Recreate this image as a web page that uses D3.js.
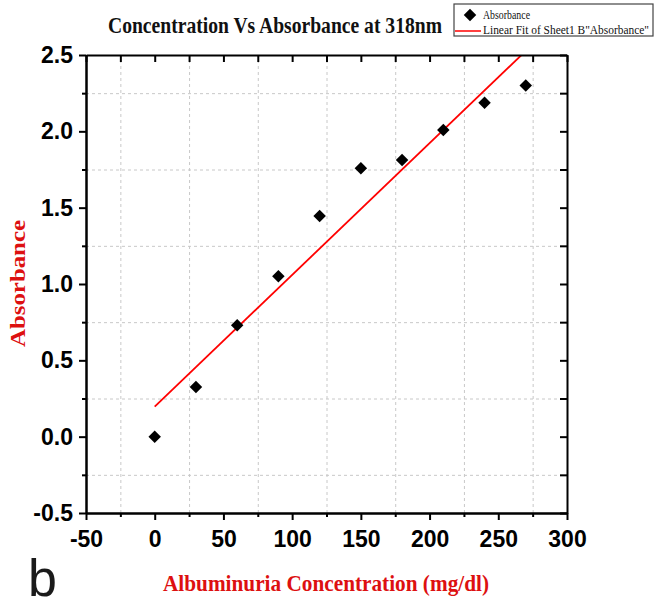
<!DOCTYPE html>
<html>
<head>
<meta charset="utf-8">
<style>
body { margin: 0; background: #fff; }
/* tick labels, bold sans like Origin's Arial */
.tick text { font-family: "Liberation Sans", Arial, sans-serif; font-weight: bold; font-size: 23px; fill: #000; }
.axis path, .axis line { stroke: #000; stroke-width: 2; }
.grid line { stroke: #c8c8c8; stroke-width: 1; stroke-dasharray: 3,3; }
.grid path { display: none; }
.serif { font-family: "Liberation Serif", "Times New Roman", serif; }
</style>
</head>
<body>
<svg width="656" height="600"></svg>
<script src="https://cdn.jsdelivr.net/npm/d3@7"></script>
<script>

// measured data (albuminuria mg/dl vs absorbance at 318nm)
var concentration = [0, 30, 60, 90, 120, 150, 180, 210, 240, 270];
var absorbance = [0.0, 0.325, 0.73, 1.05, 1.445, 1.758, 1.812, 2.008, 2.187, 2.30];

var xMajor = [-50, 0, 50, 100, 150, 200, 250, 300];
var xMinor = [-25, 25, 75, 125, 175, 225, 275];
var yMajor = [-0.5, 0.0, 0.5, 1.0, 1.5, 2.0, 2.5];
var yMinor = [-0.25, 0.25, 0.75, 1.25, 1.75, 2.25];

var titleText = "Concentration Vs Absorbance at 318nm";
var xTitle = "Albuminuria Concentration (mg/dl)";
var yTitle = "Absorbance";
var legendLabels = ["Absorbance", "Linear Fit of Sheet1 B\"Absorbance\""];

var svg = d3.select("svg"),
    plotL = 86, plotR = 567, plotT = 55, plotB = 513;

// plain hyphen for negatives, like the original
var loc = d3.formatLocale({decimal: ".", thousands: ",", grouping: [3], currency: ["", ""], minus: "-"});

var x = d3.scaleLinear().domain([-50, 300]).range([plotL, plotR]);
var y = d3.scaleLinear().domain([-0.5, 2.5]).range([plotB, plotT]);

// grid only on the minor positions
svg.append("g").attr("class", "grid")
    .attr("transform", "translate(0," + plotB + ")")
    .call(d3.axisBottom(x).tickValues(xMinor).tickSize(-(plotB - plotT)).tickFormat(""));
svg.append("g").attr("class", "grid")
    .attr("transform", "translate(" + plotL + ",0)")
    .call(d3.axisLeft(y).tickValues(yMinor).tickSize(-(plotR - plotL)).tickFormat(""));

// least squares fit
var pts = concentration.map(function(c, i) { return [c, absorbance[i]]; });
var mx = d3.mean(concentration), my = d3.mean(absorbance);
var sxy = d3.sum(pts, function(p) { return (p[0] - mx) * (p[1] - my); });
var sxx = d3.sum(pts, function(p) { return (p[0] - mx) * (p[0] - mx); });
var slope = sxy / sxx, intercept = my - slope * mx;

svg.append("clipPath").attr("id", "plotclip")
  .append("rect").attr("x", plotL).attr("y", plotT).attr("width", plotR - plotL).attr("height", plotB - plotT);

var fitX = d3.extent(concentration);
svg.append("path")
    .attr("clip-path", "url(#plotclip)")
    .attr("d", d3.line().x(function(d) { return x(d); }).y(function(d) { return y(intercept + slope * d); })(fitX))
    .attr("fill", "none")
    .attr("stroke", "#ff0000")
    .attr("stroke-width", 1.8);

var diamond = d3.symbol().type(d3.symbolSquare).size(78);
svg.selectAll(".pt")
  .data(pts)
  .enter().append("path")
    .attr("class", "pt")
    .attr("d", diamond)
    .attr("transform", function(d) { return "translate(" + x(d[0]) + "," + y(d[1]) + ") rotate(45)"; })
    .attr("fill", "#000");

// axes: bottom/left outward, top/right inward
svg.append("g").attr("class", "axis")
    .attr("transform", "translate(0," + plotB + ")")
    .call(d3.axisBottom(x).tickValues(xMinor).tickSize(4).tickSizeOuter(0).tickFormat(""));
svg.append("g").attr("class", "axis")
    .attr("transform", "translate(0," + plotB + ")")
    .call(d3.axisBottom(x).tickValues(xMajor).tickSize(7).tickSizeOuter(0).tickPadding(11).tickFormat(loc.format("d")));

svg.append("g").attr("class", "axis")
    .attr("transform", "translate(" + plotL + ",0)")
    .call(d3.axisLeft(y).tickValues(yMinor).tickSize(4).tickSizeOuter(0).tickFormat(""));
svg.append("g").attr("class", "axis")
    .attr("transform", "translate(" + plotL + ",0)")
    .call(d3.axisLeft(y).tickValues(yMajor).tickSize(7).tickSizeOuter(0).tickPadding(6).tickFormat(loc.format(".1f")));

svg.append("g").attr("class", "axis")
    .attr("transform", "translate(0," + plotT + ")")
    .call(d3.axisTop(x).tickValues(xMajor.concat(xMinor)).tickSize(-7).tickSizeOuter(0).tickFormat(""));
svg.append("g").attr("class", "axis")
    .attr("transform", "translate(" + plotR + ",0)")
    .call(d3.axisRight(y).tickValues(yMajor.concat(yMinor)).tickSize(-7).tickSizeOuter(0).tickFormat(""));

// titles
svg.append("text").attr("class", "serif")
    .attr("x", 108).attr("y", 33)
    .attr("textLength", 334).attr("lengthAdjust", "spacingAndGlyphs")
    .style("font-size", "23px").style("font-weight", "bold").attr("fill", "#111")
    .text(titleText);

svg.append("text").attr("class", "serif")
    .attr("x", 163).attr("y", 591)
    .attr("textLength", 326).attr("lengthAdjust", "spacingAndGlyphs")
    .style("font-size", "24px").style("font-weight", "bold").attr("fill", "#dd1010")
    .text(xTitle);

svg.append("text").attr("class", "serif")
    .attr("transform", "translate(25,347) rotate(-90)")
    .attr("textLength", 127).attr("lengthAdjust", "spacingAndGlyphs")
    .style("font-size", "20px").style("font-weight", "bold").attr("fill", "#dd1010")
    .text(yTitle);

// panel letter
svg.append("text")
    .attr("x", 28).attr("y", 596)
    .style("font-family", "'Liberation Sans', Arial, sans-serif")
    .style("font-size", "52px").attr("fill", "#1a1a1a")
    .text("b");

// legend
var lg = svg.append("g");
lg.append("rect").attr("x", 454).attr("y", 4).attr("width", 199).attr("height", 32)
    .attr("fill", "#fff").attr("stroke", "#444").attr("stroke-width", 1.2);
lg.append("path").attr("d", diamond)
    .attr("transform", "translate(470,15) rotate(45)").attr("fill", "#000");
lg.append("line").attr("x1", 455).attr("x2", 481).attr("y1", 31).attr("y2", 31)
    .attr("stroke", "#ff0000").attr("stroke-width", 1.5);
lg.selectAll(".lt")
  .data(legendLabels)
  .enter().append("text")
    .attr("class", "serif lt")
    .attr("x", 483)
    .attr("y", function(d, i) { return i ? 34 : 19; })
    .attr("textLength", function(d, i) { return i ? 166 : 47; })
    .attr("lengthAdjust", "spacingAndGlyphs")
    .style("font-size", "13px").attr("fill", "#111")
    .text(function(d) { return d; });

</script>
</body>
</html>
